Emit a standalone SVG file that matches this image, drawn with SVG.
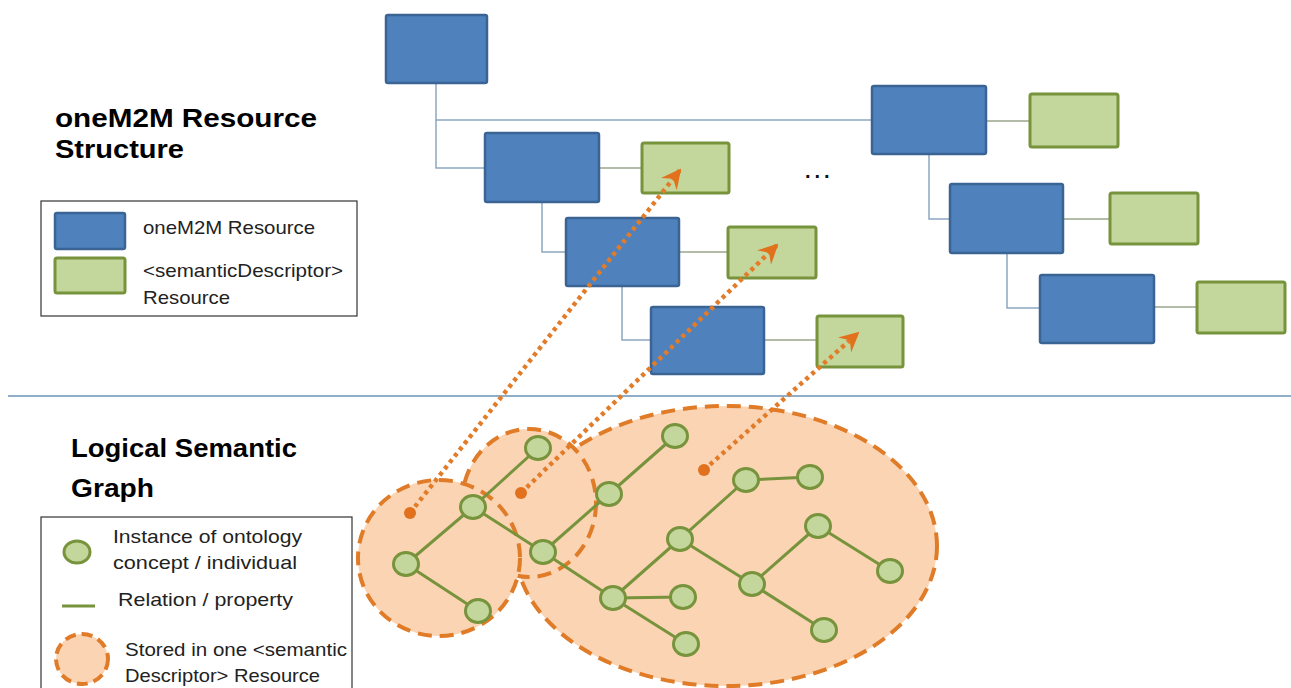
<svg xmlns="http://www.w3.org/2000/svg" width="1291" height="688" viewBox="0 0 1291 688">
<style>
.res{fill:#4f81bd;stroke:#3a6494;stroke-width:2.5}
.sd{fill:#c3d69b;stroke:#77933c;stroke-width:3}
.tree{fill:none;stroke:#8fa6c0;stroke-width:1.5}
.link{fill:none;stroke:#9aa68c;stroke-width:1.5}
.title{font-family:"Liberation Sans",Arial,sans-serif;font-weight:bold;font-size:25px;fill:#000}
.lg{font-family:"Liberation Sans",Arial,sans-serif;font-size:18.5px;fill:#222}
.blob{fill:#fbd4b4;stroke:#e07b28;stroke-width:4;stroke-dasharray:14 8}
.edge{stroke:#77933c;stroke-width:3;fill:none}
.node{fill:#c3d69b;stroke:#77933c;stroke-width:3}
.ptr{fill:none;stroke:#e27c29;stroke-width:4.5;stroke-dasharray:4 4}
.dot{fill:#e2711d}
</style>
<defs>
<marker id="ah" viewBox="0 0 10 10" refX="9" refY="5" markerWidth="20" markerHeight="20" markerUnits="userSpaceOnUse" orient="auto">
<path d="M0,0 L10,5 L0,10 L3.5,5 Z" fill="#e2711d"/>
</marker>
</defs>

<line x1="8" y1="396" x2="1291" y2="396" stroke="#6b93b4" stroke-width="1.5"/>

<g id="titles">
<text class="title" x="55" y="127" textLength="262" lengthAdjust="spacingAndGlyphs">oneM2M Resource</text>
<text class="title" x="55" y="158" textLength="129" lengthAdjust="spacingAndGlyphs">Structure</text>
<text class="title" x="71" y="457" textLength="226" lengthAdjust="spacingAndGlyphs">Logical Semantic</text>
<text class="title" x="71" y="497" textLength="83" lengthAdjust="spacingAndGlyphs">Graph</text>
</g>

<g id="legend-resources">
<rect x="41" y="201" width="316" height="115" fill="#fff" stroke="#333" stroke-width="1.2"/>
<rect class="res" x="55" y="213" width="70" height="36" rx="2"/>
<rect class="sd" x="55" y="258" width="70" height="35" rx="2"/>
<text class="lg" x="143" y="234" textLength="172" lengthAdjust="spacingAndGlyphs">oneM2M Resource</text>
<text class="lg" x="143" y="277" textLength="200" lengthAdjust="spacingAndGlyphs">&lt;semanticDescriptor&gt;</text>
<text class="lg" x="143" y="304" textLength="87" lengthAdjust="spacingAndGlyphs">Resource</text>
</g>

<g id="legend-graph">
<rect x="41" y="517" width="311" height="190" fill="#fff" stroke="#333" stroke-width="1.2"/>
<ellipse class="node" cx="77" cy="552" rx="13" ry="11"/>
<line class="edge" x1="62" y1="606" x2="95" y2="606"/>
<ellipse class="blob" cx="82" cy="659" rx="26" ry="25" style="stroke-dasharray:11 6"/>
<text class="lg" x="113" y="543" textLength="189" lengthAdjust="spacingAndGlyphs">Instance of ontology</text>
<text class="lg" x="113" y="569" textLength="184" lengthAdjust="spacingAndGlyphs">concept / individual</text>
<text class="lg" x="118" y="606" textLength="175" lengthAdjust="spacingAndGlyphs">Relation / property</text>
<text class="lg" x="125" y="656" textLength="222" lengthAdjust="spacingAndGlyphs">Stored in one &lt;semantic</text>
<text class="lg" x="125" y="682" textLength="195" lengthAdjust="spacingAndGlyphs">Descriptor&gt; Resource</text>
</g>

<g id="tree-connectors">
<polyline class="tree" points="436,83 436,120 872,120"/>
<polyline class="tree" points="436,120 436,168 485,168"/>
<polyline class="tree" points="542,202 542,252 566,252"/>
<polyline class="tree" points="622,286 622,340 651,340"/>
<polyline class="tree" points="929,154 929,219 950,219"/>
<polyline class="tree" points="1007,253 1007,308 1040,308"/>
<line class="link" x1="599" y1="168" x2="642" y2="168"/>
<line class="link" x1="679" y1="252" x2="728" y2="252"/>
<line class="link" x1="764" y1="340" x2="817" y2="340"/>
<line class="link" x1="986" y1="121" x2="1030" y2="121"/>
<line class="link" x1="1063" y1="219" x2="1110" y2="219"/>
<line class="link" x1="1154" y1="307" x2="1197" y2="307"/>
</g>

<g id="res-root"><rect class="res" x="386" y="15" width="101" height="68" rx="2"/></g>
<g id="res-b"><rect class="res" x="485" y="133" width="114" height="69" rx="2"/></g>
<g id="res-c"><rect class="res" x="566" y="218" width="113" height="68" rx="2"/></g>
<g id="res-d"><rect class="res" x="651" y="307" width="113" height="67" rx="2"/></g>
<g id="res-e"><rect class="res" x="872" y="86" width="114" height="68" rx="2"/></g>
<g id="res-f"><rect class="res" x="950" y="184" width="113" height="69" rx="2"/></g>
<g id="res-h"><rect class="res" x="1040" y="275" width="114" height="68" rx="2"/></g>
<g id="sd-1"><rect class="sd" x="642" y="143" width="87" height="50" rx="2"/></g>
<g id="sd-2"><rect class="sd" x="728" y="227" width="88" height="51" rx="2"/></g>
<g id="sd-3"><rect class="sd" x="817" y="316" width="86" height="51" rx="2"/></g>
<g id="sd-4"><rect class="sd" x="1030" y="94" width="88" height="53" rx="2"/></g>
<g id="sd-5"><rect class="sd" x="1110" y="193" width="88" height="51" rx="2"/></g>
<g id="sd-6"><rect class="sd" x="1197" y="282" width="88" height="51" rx="2"/></g>
<g id="ellipsis"><text x="805" y="178" font-family="Liberation Sans, Arial, sans-serif" font-weight="bold" font-size="20" letter-spacing="4" fill="#111">...</text></g>

<g id="storage-groups">
<ellipse class="blob" cx="726" cy="546" rx="211" ry="140"/>
<ellipse class="blob" cx="529" cy="503" rx="67" ry="74"/>
<ellipse class="blob" cx="439" cy="558" rx="81" ry="78"/>
</g>

<g id="graph-edges">
<line class="edge" x1="473" y1="507" x2="538" y2="448"/>
<line class="edge" x1="473" y1="507" x2="406" y2="564"/>
<line class="edge" x1="406" y1="564" x2="478" y2="611"/>
<line class="edge" x1="473" y1="507" x2="543" y2="552"/>
<line class="edge" x1="543" y1="552" x2="609" y2="494"/>
<line class="edge" x1="609" y1="494" x2="675" y2="436"/>
<line class="edge" x1="543" y1="552" x2="613" y2="598"/>
<line class="edge" x1="613" y1="598" x2="680" y2="539"/>
<line class="edge" x1="613" y1="598" x2="683" y2="597"/>
<line class="edge" x1="613" y1="598" x2="686" y2="644"/>
<line class="edge" x1="680" y1="539" x2="746" y2="480"/>
<line class="edge" x1="746" y1="480" x2="810" y2="477"/>
<line class="edge" x1="680" y1="539" x2="752" y2="584"/>
<line class="edge" x1="752" y1="584" x2="818" y2="526"/>
<line class="edge" x1="818" y1="526" x2="890" y2="571"/>
<line class="edge" x1="752" y1="584" x2="824" y2="630"/>
</g>

<g id="graph-nodes">
<ellipse class="node" cx="538" cy="448" rx="12.5" ry="11.5"/>
<ellipse class="node" cx="473" cy="507" rx="12.5" ry="11.5"/>
<ellipse class="node" cx="406" cy="564" rx="12.5" ry="11.5"/>
<ellipse class="node" cx="478" cy="611" rx="12.5" ry="11.5"/>
<ellipse class="node" cx="543" cy="552" rx="12.5" ry="11.5"/>
<ellipse class="node" cx="609" cy="494" rx="12.5" ry="11.5"/>
<ellipse class="node" cx="613" cy="598" rx="12.5" ry="11.5"/>
<ellipse class="node" cx="675" cy="436" rx="12.5" ry="11.5"/>
<ellipse class="node" cx="746" cy="480" rx="12.5" ry="11.5"/>
<ellipse class="node" cx="810" cy="477" rx="12.5" ry="11.5"/>
<ellipse class="node" cx="680" cy="539" rx="12.5" ry="11.5"/>
<ellipse class="node" cx="818" cy="526" rx="12.5" ry="11.5"/>
<ellipse class="node" cx="752" cy="584" rx="12.5" ry="11.5"/>
<ellipse class="node" cx="890" cy="571" rx="12.5" ry="11.5"/>
<ellipse class="node" cx="683" cy="597" rx="12.5" ry="11.5"/>
<ellipse class="node" cx="686" cy="644" rx="12.5" ry="11.5"/>
<ellipse class="node" cx="824" cy="630" rx="12.5" ry="11.5"/>
</g>

<g id="pointers">
<line class="ptr" x1="410" y1="513" x2="680" y2="170" marker-end="url(#ah)"/>
<line class="ptr" x1="521" y1="493" x2="777" y2="245" marker-end="url(#ah)"/>
<line class="ptr" x1="704" y1="470" x2="858" y2="333" marker-end="url(#ah)"/>
<circle class="dot" cx="410" cy="513" r="6"/>
<circle class="dot" cx="521" cy="493" r="6"/>
<circle class="dot" cx="704" cy="470" r="6"/>
</g>
</svg>
